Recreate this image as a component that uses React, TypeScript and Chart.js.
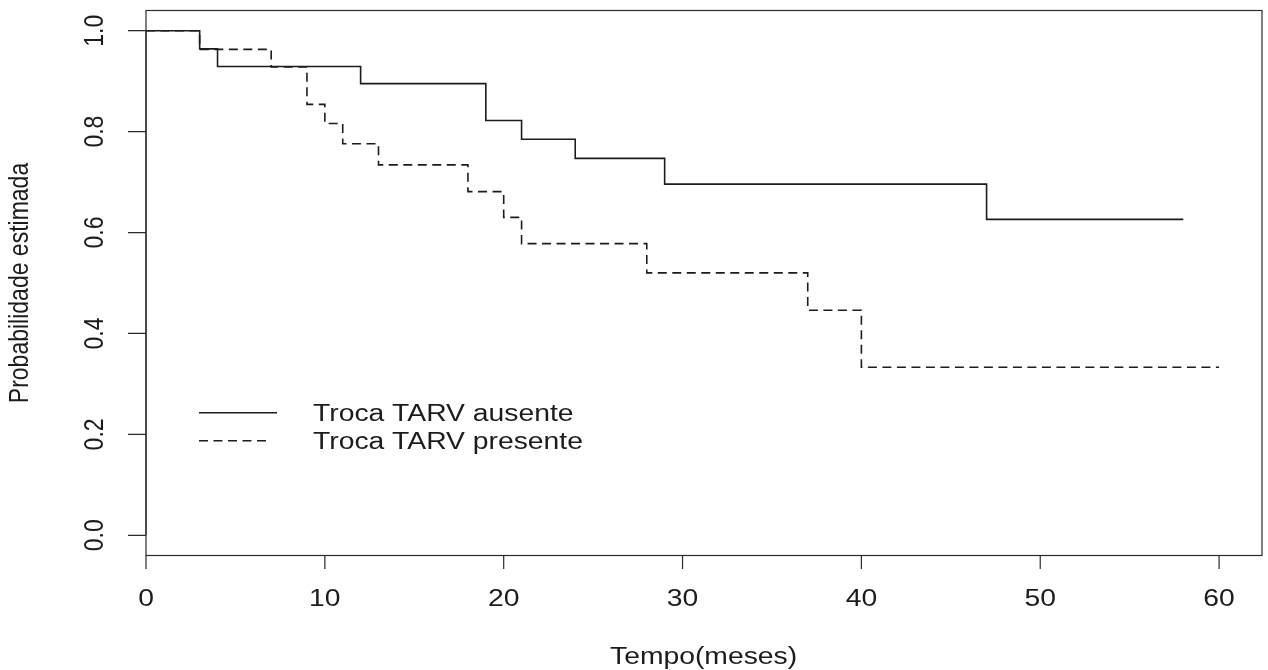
import { useEffect, useRef } from "react";
import { Chart, registerables } from "chart.js";

Chart.register(...registerables);

// Kaplan-Meier estimates per group (time in months, estimated survival)
const ausenteTempo = [0, 3, 4, 12, 19, 21, 24, 29, 47, 58];
const ausenteProb = [1, 0.964, 0.929, 0.895, 0.822, 0.785, 0.747, 0.696, 0.626, 0.626];
const presenteTempo = [0, 3, 7, 9, 10, 11, 13, 18, 20, 21, 28, 37, 40, 60];
const presenteProb = [1, 0.963, 0.928, 0.854, 0.816, 0.776, 0.734, 0.681, 0.63, 0.578, 0.52, 0.446, 0.333, 0.333];

const seriesLabels = ["Troca TARV ausente", "Troca TARV presente"];
const xTicks = [0, 10, 20, 30, 40, 50, 60];
const xTickLabels = ["0", "10", "20", "30", "40", "50", "60"];
const yTicks = [0, 0.2, 0.4, 0.6, 0.8, 1];
const yTickLabels = ["0.0", "0.2", "0.4", "0.6", "0.8", "1.0"];
const xTitle = "Tempo(meses)";
const yTitle = "Probabilidade estimada";

const FONT = '23px "Liberation Sans", Arial, sans-serif';
const INK = "#1c1c1c";
const SX = 1.23; // horizontal widening of text glyphs
const DASH = [9, 5.5];

function drawText(ctx: CanvasRenderingContext2D, text: string, x: number, y: number, rot = 0, align: CanvasTextAlign = "center") {
  ctx.save();
  ctx.translate(x, y);
  ctx.scale(SX, 1);
  ctx.rotate(rot);
  ctx.textAlign = align;
  ctx.textBaseline = "alphabetic";
  ctx.fillText(text, 0, 0);
  ctx.restore();
}

// R-style frame, axes, titles and legend
const baseGraphics = {
  id: "baseGraphics",
  afterDraw(chart: any) {
    const ctx: CanvasRenderingContext2D = chart.ctx;
    const { left, right, top, bottom } = chart.chartArea;
    const xs = chart.scales.x;
    const ys = chart.scales.y;
    ctx.save();
    ctx.strokeStyle = "#2a2a2a";
    ctx.fillStyle = INK;
    ctx.lineWidth = 1.2;
    ctx.font = FONT;

    // frame
    ctx.strokeRect(left, top, right - left, bottom - top);

    // x axis
    const x0 = xs.getPixelForValue(xTicks[0]);
    const x1 = xs.getPixelForValue(xTicks[xTicks.length - 1]);
    ctx.beginPath();
    ctx.moveTo(x0, bottom);
    ctx.lineTo(x1, bottom);
    xTicks.forEach((v) => {
      const px = xs.getPixelForValue(v);
      ctx.moveTo(px, bottom);
      ctx.lineTo(px, bottom + 13.5);
    });
    ctx.stroke();
    xTicks.forEach((v, i) => drawText(ctx, xTickLabels[i], xs.getPixelForValue(v), bottom + 50));

    // y axis
    const y0 = ys.getPixelForValue(yTicks[0]);
    const y1 = ys.getPixelForValue(yTicks[yTicks.length - 1]);
    ctx.beginPath();
    ctx.moveTo(left, y0);
    ctx.lineTo(left, y1);
    yTicks.forEach((v) => {
      const py = ys.getPixelForValue(v);
      ctx.moveTo(left - 18, py);
      ctx.lineTo(left, py);
    });
    ctx.stroke();
    yTicks.forEach((v, i) => drawText(ctx, yTickLabels[i], left - 43, ys.getPixelForValue(v), -Math.PI / 2));

    // titles
    drawText(ctx, xTitle, (x0 + x1) / 2 + 21, bottom + 108);
    drawText(ctx, yTitle, 28, (top + bottom) / 2, -Math.PI / 2);

    // legend
    const lx0 = 199;
    const rows = [412.7, 440.7];
    chart.data.datasets.forEach((ds: any, i: number) => {
      ctx.save();
      ctx.strokeStyle = ds.borderColor;
      ctx.lineWidth = ds.borderWidth;
      ctx.setLineDash(ds.borderDash || []);
      ctx.beginPath();
      ctx.moveTo(lx0, rows[i]);
      ctx.lineTo(i === 0 ? 277 : 268, rows[i]);
      ctx.stroke();
      ctx.restore();
      drawText(ctx, ds.label, 313, rows[i] + 8.5, 0, "left");
    });
    ctx.restore();
  },
};

export default function App() {
  const canvasRef = useRef<HTMLCanvasElement | null>(null);

  useEffect(() => {
    const canvas = canvasRef.current;
    if (!canvas) return;
    const toPoints = (t: number[], p: number[]) => t.map((x, i) => ({ x, y: p[i] }));
    const chart = new Chart(canvas, {
      type: "line",
      data: {
        datasets: [
          {
            label: seriesLabels[0],
            data: toPoints(ausenteTempo, ausenteProb),
            stepped: "before",
            borderColor: INK,
            borderWidth: 1.6,
            borderDash: [],
            pointRadius: 0,
            fill: false,
            borderJoinStyle: "miter",
          },
          {
            label: seriesLabels[1],
            data: toPoints(presenteTempo, presenteProb),
            stepped: "before",
            borderColor: INK,
            borderWidth: 1.6,
            borderDash: DASH,
            pointRadius: 0,
            fill: false,
            borderJoinStyle: "miter",
          },
        ],
      },
      options: {
        responsive: false,
        animation: false,
        devicePixelRatio: 1,
        layout: { padding: { left: 146, top: 10.5, right: 6, bottom: 114.5 } },
        scales: {
          x: { type: "linear", min: 0, max: 62.4, display: false },
          y: { type: "linear", min: -0.04, max: 1.04, display: false },
        },
        plugins: {
          legend: { display: false },
          tooltip: { enabled: false },
        },
      },
      plugins: [baseGraphics],
    } as any);
    return () => chart.destroy();
  }, []);

  return (
    <div style={{ position: "fixed", left: 0, top: 0, width: 1268, height: 670, background: "#fff" }}>
      <canvas ref={canvasRef} width={1268} height={670} style={{ display: "block" }} />
    </div>
  );
}
